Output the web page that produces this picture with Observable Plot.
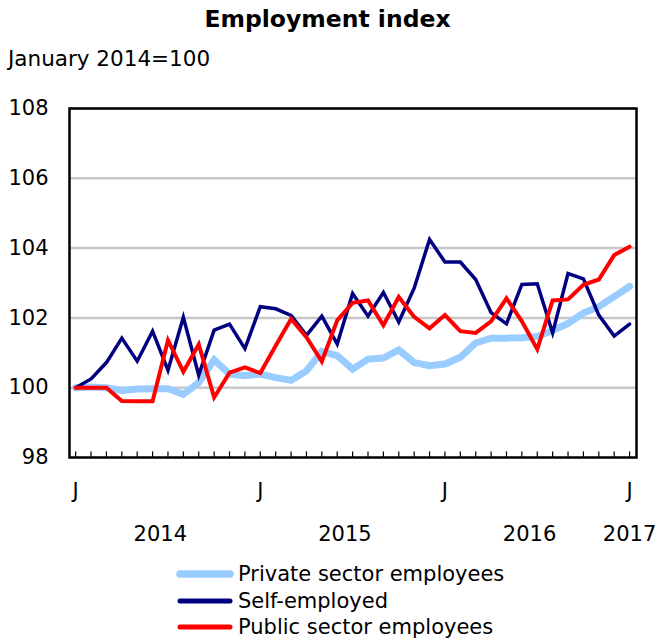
<!DOCTYPE html>
<html>
<head>
<meta charset="utf-8">
<script src="https://cdn.jsdelivr.net/npm/d3@7"></script>
<script src="https://cdn.jsdelivr.net/npm/@observablehq/plot@0.6"></script>
<style>
  body { margin: 0; background: #fff; font-family: "DejaVu Sans", Verdana, sans-serif; }
  #wrap { position: relative; width: 655px; height: 639px; overflow: hidden; }
  #title { position: absolute; top: 5px; left: 0; width: 655px; text-align: center; font-weight: bold; font-size: 23.5px; color: #000; }
  #sub { position: absolute; top: 46px; left: 8px; font-size: 21.5px; color: #000; }
  #chart { position: absolute; top: 90px; left: 0; }
  .leg { position: absolute; left: 176px; font-size: 21px; height: 26px; line-height: 26px; display: flex; align-items: center; }
  .leg svg { margin-right: 4px; }
</style>
</head>
<body>
<div id="wrap">
  <div id="title">Employment index</div>
  <div id="sub">January 2014=100</div>
  <div id="chart"></div>
  <div id="legend"></div>
</div>
<script>
const months = ["2014-01","2014-02","2014-03","2014-04","2014-05","2014-06","2014-07","2014-08","2014-09","2014-10","2014-11","2014-12",
  "2015-01","2015-02","2015-03","2015-04","2015-05","2015-06","2015-07","2015-08","2015-09","2015-10","2015-11","2015-12",
  "2016-01","2016-02","2016-03","2016-04","2016-05","2016-06","2016-07","2016-08","2016-09","2016-10","2016-11","2016-12",
  "2017-01"];
const privateSector = [100.0, 100.02, 100.0, 99.92, 99.96, 99.97, 99.97, 99.81, 100.15, 100.8, 100.39, 100.34, 100.39, 100.29, 100.21, 100.48, 101.04, 100.92, 100.53, 100.82, 100.85, 101.08, 100.72, 100.63, 100.68, 100.87, 101.28, 101.42, 101.42, 101.43, 101.47, 101.64, 101.84, 102.14, 102.32, 102.61, 102.9];
const selfEmployed = [100.0, 100.25, 100.72, 101.42, 100.76, 101.62, 100.5, 102.02, 100.36, 101.65, 101.82, 101.12, 102.32, 102.26, 102.07, 101.5, 102.05, 101.25, 102.7, 102.05, 102.73, 101.88, 102.85, 104.25, 103.6, 103.6, 103.1, 102.15, 101.83, 102.96, 102.98, 101.57, 103.27, 103.12, 102.08, 101.48, 101.82];
const publicSector = [100.0, 100.0, 100.0, 99.62, 99.61, 99.61, 101.36, 100.46, 101.24, 99.72, 100.43, 100.58, 100.42, 101.2, 101.97, 101.45, 100.75, 101.93, 102.43, 102.5, 101.79, 102.6, 102.03, 101.7, 102.08, 101.62, 101.57, 101.9, 102.56, 101.9, 101.1, 102.5, 102.53, 102.95, 103.1, 103.8, 104.04];

const seriesNames = ["Private sector employees", "Self-employed", "Public sector employees"];
const seriesColors = ["#99ccff", "#000080", "#ff0000"];
const seriesWidths = [7, 3.5, 4];
const seriesValues = [privateSector, selfEmployed, publicSector];

const yTicks = [98, 100, 102, 104, 106, 108];
const gridValues = [100, 102, 104, 106, 108];
const monthTickLabels = ["J", "J", "J", "J"];
const yearLabels = ["2014", "2015", "2016", "2017"];

const idx = months.map((m, i) => i);
const janIdx = idx.filter(i => months[i].endsWith("-01"));
const yearPos = yearLabels.map(y => {
  const inYear = idx.filter(i => months[i].startsWith(y));
  return (inYear[0] + inYear[inYear.length - 1]) / 2;
});

const chart = Plot.plot({
  width: 655,
  height: 460,
  marginLeft: 69,
  marginRight: 19,
  marginTop: 18,
  marginBottom: 93,
  style: {fontFamily: "'DejaVu Sans', Verdana, sans-serif", fontSize: "21px", color: "#000", background: "#fff"},
  x: {domain: [-0.4, 36.45], axis: null},
  y: {domain: [98, 108], axis: null},
  marks: [
    Plot.ruleY(gridValues, {stroke: "#c8c8c8", strokeWidth: 2.5}),
    Plot.ruleX(idx, {x: d => d, y1: 98, y2: 98.16, stroke: "#000", strokeWidth: 1.2}),
    ...seriesValues.map((vals, s) =>
      Plot.line(idx, {x: d => d, y: d => vals[d], stroke: seriesColors[s], strokeWidth: seriesWidths[s], strokeLinejoin: "miter", strokeMiterlimit: 4})
    ),
    Plot.frame({stroke: "#000", strokeWidth: 2.5}),
    Plot.axisY(yTicks, {tickSize: 0, tickPadding: 21, fontSize: 21, tickFormat: d => String(d)}),
    Plot.text(janIdx, {x: d => d, y: 98, text: (d, k) => monthTickLabels[k], dy: 34, fontSize: 21, lineAnchor: "middle"}),
    Plot.text(yearPos, {x: d => d, y: 98, text: (d, k) => yearLabels[k], dy: 77, fontSize: 21, lineAnchor: "middle"})
  ]
});
document.getElementById("chart").appendChild(chart);

const legend = document.getElementById("legend");
const legendTops = [561, 588, 614];
seriesNames.forEach((name, s) => {
  const div = document.createElement("div");
  div.className = "leg";
  div.style.top = legendTops[s] + "px";
  div.innerHTML = `<svg width="58" height="10"><line x1="4" y1="5" x2="54" y2="5" stroke="${seriesColors[s]}" stroke-width="${s === 0 ? 7.5 : 5}" stroke-linecap="round"/></svg><span>${name}</span>`;
  legend.appendChild(div);
});
</script>
</body>
</html>
